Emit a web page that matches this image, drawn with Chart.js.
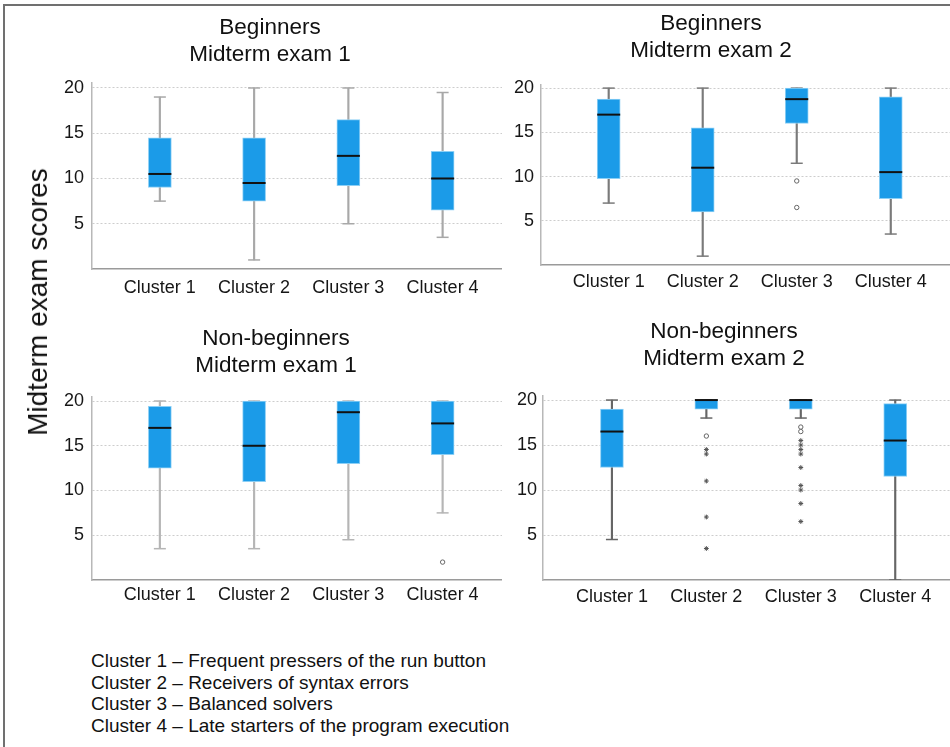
<!DOCTYPE html>
<html lang="en">
<head>
<meta charset="UTF-8">
<title>Midterm exam scores by cluster</title>
<script src="https://cdn.jsdelivr.net/npm/chart.js@4"></script>
<style>
  body { margin: 0; width: 950px; height: 747px; overflow: hidden; background: #fff;
         font-family: "Liberation Sans", Arial, sans-serif; color: #111; }
  #frame { position: absolute; left: 3px; top: 4px; width: 1000px; height: 800px;
           border-left: 2px solid #707070; border-top: 2px solid #707070; }
  canvas { position: absolute; }
  #yTitle { position: absolute; left: 38px; top: 302px; font-size: 28px; white-space: nowrap;
            transform: translate(-50%, -50%) rotate(-90deg); }
  #notes { position: absolute; left: 91px; top: 650px; font-size: 19px; line-height: 21.7px; }
</style>
</head>
<body>
<div id="frame"></div>
<canvas id="beg1" width="464" height="300" style="left:38px;top:0px"></canvas>
<canvas id="beg2" width="478" height="300" style="left:472px;top:0px"></canvas>
<canvas id="non1" width="452" height="300" style="left:50px;top:310px"></canvas>
<canvas id="non2" width="452" height="300" style="left:498px;top:310px"></canvas>
<div id="yTitle">Midterm exam scores</div>
<div id="notes">
  Cluster 1 – Frequent pressers of the run button<br>
  Cluster 2 – Receivers of syntax errors<br>
  Cluster 3 – Balanced solvers<br>
  Cluster 4 – Late starters of the program execution
</div>
<script>
const clusters = ['Cluster 1', 'Cluster 2', 'Cluster 3', 'Cluster 4'];
const scoreTicks = [5, 10, 15, 20];

// Beginners, midterm exam 1
const beg1Low = [7.5, 1, 5, 3.5];
const beg1Q1 = [9, 7.5, 9.2, 6.5];
const beg1Median = [10.5, 9.5, 12.5, 10];
const beg1Q3 = [14.5, 14.5, 16.5, 13];
const beg1High = [19, 20, 20, 19.5];
const beg1Circles = [];
const beg1Stars = [];

// Beginners, midterm exam 2
const beg2Low = [7, 1, 11.5, 3.5];
const beg2Q1 = [9.75, 6, 16, 7.5];
const beg2Median = [17, 11, 18.75, 10.5];
const beg2Q3 = [18.75, 15.5, 20, 19];
const beg2High = [20, 20, 20, 20];
const beg2Circles = [[3, 9.5], [3, 6.5]];
const beg2Stars = [];

// Non-beginners, midterm exam 1
const non1Low = [3.5, 3.5, 4.5, 7.5];
const non1Q1 = [12.5, 11, 13, 14];
const non1Median = [17, 15, 18.75, 17.5];
const non1Q3 = [19.4, 20, 20, 20];
const non1High = [20, 20, 20, 20];
const non1Circles = [[4, 2]];
const non1Stars = [];

// Non-beginners, midterm exam 2
const non2Low = [4.5, 18, 18, 0];
const non2Q1 = [12.5, 19, 19, 11.5];
const non2Median = [16.5, 20, 20, 15.5];
const non2Q3 = [19, 20, 20, 19.6];
const non2High = [20, 20, 20, 20];
const non2Circles = [[2, 16], [3, 17], [3, 16.5]];
const non2Stars = [[2, 14.5], [2, 14], [2, 11], [2, 7], [2, 3.5],
                   [3, 15.5], [3, 15], [3, 14.5], [3, 14], [3, 12.5],
                   [3, 10.5], [3, 10], [3, 8.5], [3, 6.5]];

const FONT = '"Liberation Sans", Arial, sans-serif';
Chart.defaults.font.family = FONT;

function boxPanel(id, title, low, q1, med, q3, high, circles, stars, look) {
  const xs = clusters.map((c, i) => i + 1);
  const datasets = [
    // whisker line, min to max, sits behind the box
    { type: 'bar', data: xs.map((x, i) => ({ x: x, y: [low[i], high[i]] })),
      backgroundColor: look.whisker, barThickness: 1.5, grouped: false, order: 5 },
    // whisker caps
    { type: 'scatter', data: xs.flatMap((x, i) => [{ x: x, y: low[i] }, { x: x, y: high[i] }]),
      pointStyle: 'line', pointRadius: 6, pointBorderColor: look.whisker, pointBorderWidth: 1.5, order: 4 },
    // box q1..q3
    { type: 'bar', data: xs.map((x, i) => ({ x: x, y: [q1[i], q3[i]] })),
      backgroundColor: '#1b9be8', borderColor: '#8ccff5', borderWidth: 1, borderSkipped: false,
      barThickness: 23, grouped: false, order: 3 },
    // median
    { type: 'scatter', data: xs.map((x, i) => ({ x: x, y: med[i] })),
      pointStyle: 'line', pointRadius: 11.5, pointBorderColor: '#111', pointBorderWidth: 2, order: 2 },
    // outliers
    { type: 'scatter', data: circles.map(o => ({ x: o[0], y: o[1] })),
      pointStyle: 'circle', pointRadius: 2.2, pointBorderColor: '#666', pointBackgroundColor: '#fff',
      pointBorderWidth: 1, order: 1 },
    { type: 'scatter', data: stars.map(o => ({ x: o[0], y: o[1] })),
      pointStyle: 'star', pointRadius: 2.4, pointBorderColor: '#555', pointBorderWidth: 1, order: 0 }
  ];

  new Chart(document.getElementById(id), {
    type: 'bar',
    data: { datasets: datasets },
    options: {
      responsive: false,
      animation: false,
      events: [],
      layout: { padding: 0, autoPadding: false },
      plugins: {
        legend: { display: false },
        tooltip: { enabled: false },
        title: {
          display: true, text: title, color: '#111',
          font: { size: 22.5, weight: 'normal', lineHeight: 1.2 },
          padding: { top: look.titleTop, bottom: look.titleBottom }
        }
      },
      scales: {
        x: {
          type: 'linear', min: look.xMin, max: look.xMax, offset: false,
          afterBuildTicks: s => { s.ticks = xs.map(v => ({ value: v })); },
          afterFit: s => { s.height = look.xHeight; s.paddingLeft = 0; s.paddingRight = 0; },
          grid: { display: false, offset: false, drawTicks: false },
          border: { display: true, color: '#9a9a9a', width: 1.5 },
          ticks: { color: '#161616', font: { size: 18 }, padding: look.xPad, maxRotation: 0, autoSkip: false,
                   callback: v => clusters[v - 1] }
        },
        y: {
          min: 0, max: look.yMax,
          afterBuildTicks: s => { s.ticks = scoreTicks.map(v => ({ value: v })); },
          afterFit: s => { s.width = look.yWidth; s.paddingLeft = 0; s.paddingRight = 0; },
          grid: { color: '#cdcdcd', lineWidth: 1, drawTicks: false },
          border: { display: true, color: '#b8b8b8', width: 1.5, dash: [2, 2] },
          ticks: { color: '#161616', font: { size: 18 }, padding: look.yPad }
        }
      }
    }
  });
}

boxPanel('beg1', ['Beginners', 'Midterm exam 1'], beg1Low, beg1Q1, beg1Median, beg1Q3, beg1High,
  beg1Circles, beg1Stars,
  { titleTop: 14, titleBottom: 15, yWidth: 54, yPad: 8, xHeight: 31, xPad: 8,
    xMin: 0.28, xMax: 4.63, yMax: 20.55, whisker: '#a8a8a8' });

boxPanel('beg2', ['Beginners', 'Midterm exam 2'], beg2Low, beg2Q1, beg2Median, beg2Q3, beg2High,
  beg2Circles, beg2Stars,
  { titleTop: 10, titleBottom: 21, yWidth: 69, yPad: 7, xHeight: 35, xPad: 6,
    xMin: 0.28, xMax: 4.63, yMax: 20.35, whisker: '#7a7a7a' });

boxPanel('non1', ['Non-beginners', 'Midterm exam 1'], non1Low, non1Q1, non1Median, non1Q3, non1High,
  non1Circles, non1Stars,
  { titleTop: 15, titleBottom: 18, yWidth: 42, yPad: 8, xHeight: 30, xPad: 4,
    xMin: 0.28, xMax: 4.63, yMax: 20.45, whisker: '#b5b5b5' });

boxPanel('non2', ['Non-beginners', 'Midterm exam 2'], non2Low, non2Q1, non2Median, non2Q3, non2High,
  non2Circles, non2Stars,
  { titleTop: 8.5, titleBottom: 23.5, yWidth: 45, yPad: 6, xHeight: 30, xPad: 6,
    xMin: 0.27, xMax: 4.58, yMax: 20.45, whisker: '#666' });
</script>
</body>
</html>
